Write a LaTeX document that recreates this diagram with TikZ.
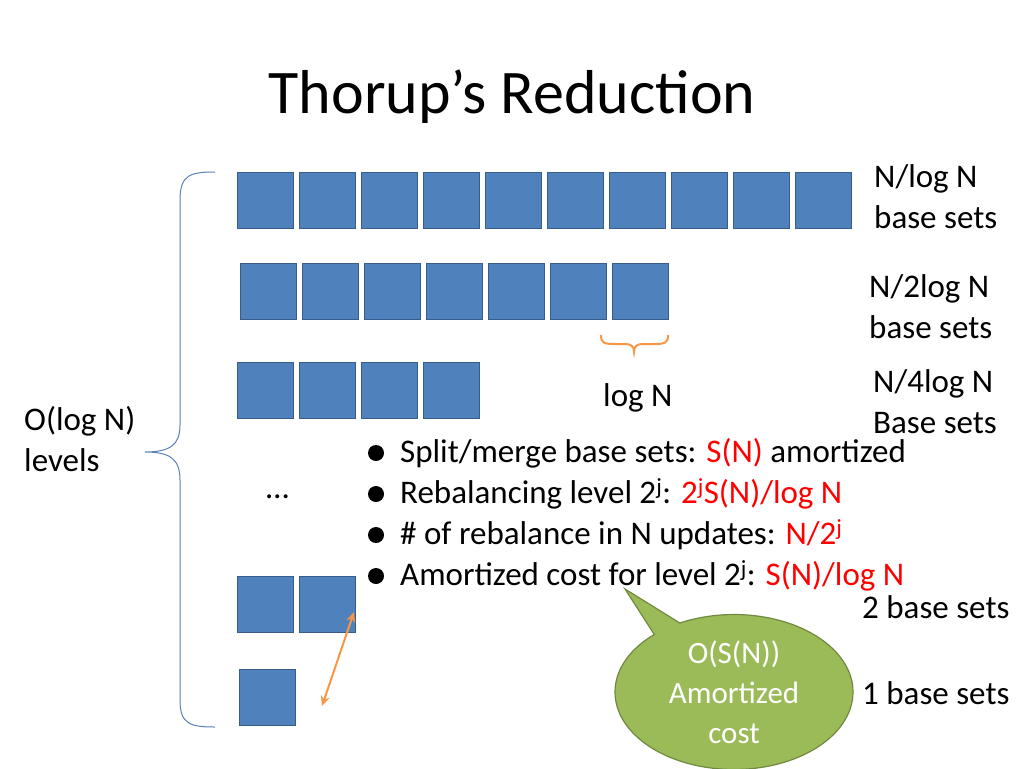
\documentclass[tikz,border=0pt]{standalone}
\usepackage{fontspec}
\setmainfont{Carlito}
\usetikzlibrary{shapes.geometric,shapes.callouts,arrows.meta}
\definecolor{boxblue}{HTML}{4F81BD}
\definecolor{boxline}{HTML}{385D8A}
\definecolor{calloutgreen}{HTML}{9BBB59}
\definecolor{calloutline}{HTML}{71893F}
\definecolor{braceblue}{HTML}{4F81BD}
\definecolor{braceorange}{HTML}{F79646}
\tikzset{
  baseset/.style={draw=boxline, line width=1.2pt, fill=boxblue, minimum size=56pt, inner sep=0pt, anchor=north west},
  lbl/.style={font=\fontsize{33}{41}\selectfont, anchor=west, inner sep=0pt, align=left},
  bullet/.style={font=\fontsize{33}{41}\selectfont, anchor=west, inner sep=0pt},
}
\begin{document}
\begin{tikzpicture}[x=1pt,y=-1pt]
  \useasboundingbox (0,0) rectangle (1024,768);
  \node (title) at (512,97) {\fontsize{62}{70}\selectfont Thorup’s Reduction};
  % rows of base sets
  \foreach \i in {0,...,9} \node[baseset] (r1-\i) at ({237+62*\i},172) {};
  \foreach \i in {0,...,6} \node[baseset] (r2-\i) at ({240+62*\i},263) {};
  \foreach \i in {0,...,3} \node[baseset] (r3-\i) at ({237+62*\i},362) {};
  \foreach \i in {0,1} \node[baseset] (r4-\i) at ({237+62*\i},576) {};
  \node[baseset] (r5-0) at (239,669) {};
  % labels on the right
  \node[lbl] (l1) at (874,197) {N/log N\\base sets};
  \node[lbl] (l2) at (869,307) {N/2log N\\base sets};
  \node[lbl] (l3) at (873,402) {N/4log N\\Base sets};
  \node[lbl] (l4) at (862,607) {2 base sets};
  \node[lbl] (l5) at (862,693) {1 base sets};
  \node[lbl] (levels) at (24,439) {O(log N)\\levels};
  \node[lbl] (dots) at (266,497) {…};
  % big brace
  \draw[braceblue!80!gray, line width=1pt] (215,172) .. controls (190,172) and (180,175) .. (180,200)
    -- (180,425) .. controls (180,445) and (170,452) .. (145,452)
    .. controls (170,452) and (180,459) .. (180,480)
    -- (180,700) .. controls (180,724) and (190,727) .. (215,727);
  % small brace under log N
  \draw[braceorange, line width=2pt] (601,335) .. controls (601,343) and (604,344) .. (615,344)
    -- (625,344) .. controls (631,344) and (634,346) .. (634,352)
    .. controls (634,346) and (637,344) .. (643,344) -- (654,344)
    .. controls (665,344) and (668,343) .. (668,335);
  \node[lbl] (logn) at (603,398) {log N};
  % arrow between last two levels
  \coordinate (a1) at (322,706);
  \coordinate (a2) at (354,612);
  \draw[braceorange, line width=2pt, {Stealth[length=10pt,width=9pt]}-{Stealth[length=10pt,width=9pt]}] (a1) -- (a2);
  % bullets
  \foreach \y/\t [count=\k] in {453/{Split/merge base sets: \textcolor{red}{S(N)} amortized},
      494/{Rebalancing level 2\textsuperscript{j}: \textcolor{red}{2\textsuperscript{j}S(N)/log N}},
      535/{\# of rebalance in N updates: \textcolor{red}{N/2\textsuperscript{j}}},
      576/{Amortized cost for level 2\textsuperscript{j}: \textcolor{red}{S(N)/log N}}} {
    \fill (376,\y) circle (8pt);
    \node[bullet] (b\k) at (400,\y) {\t};
  }
  % callout
  \node[ellipse callout, draw=calloutline, line width=1.2pt, fill=calloutgreen, minimum width=238pt, minimum height=120pt,
    callout absolute pointer={(625,589)}, text=white, align=center, font=\fontsize{31}{40}\selectfont] (cost) at (734,692)
    {O(S(N))\\Amortized\\cost};
\end{tikzpicture}
\end{document}
